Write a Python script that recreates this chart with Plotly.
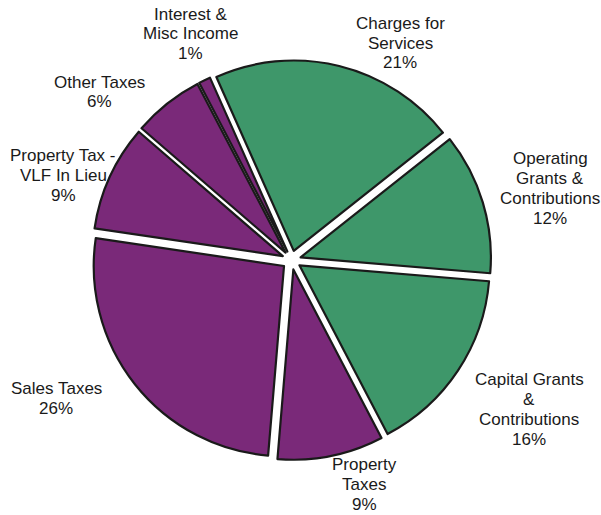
import plotly.graph_objects as go

# Revenue sources, clockwise from "Charges for Services"
labels = [
    "Charges for<br>Services",
    "Operating<br>Grants &<br>Contributions",
    "Capital Grants<br>&<br>Contributions",
    "Property<br>Taxes",
    "Sales Taxes",
    "Property Tax -<br>VLF In Lieu",
    "Other Taxes",
    "Interest &<br>Misc Income",
]
values = [21, 12, 16, 9, 26, 9, 6, 1]
groups = ["program", "program", "program", "tax", "tax", "tax", "tax", "tax"]

# Caption block centres, in pixels from the top-left of the 601x515 figure
label_cx = [400, 550, 529, 364, 56, 63, 99, 190]
label_cy = [43, 188, 409, 484, 398, 175, 92, 34]

W, H = 601, 515
LINE_STEP = 20  # px between caption lines

GREEN = "#3e976a"
PURPLE = "#7a2979"
colors = [GREEN if g == "program" else PURPLE for g in groups]

fig = go.Figure(
    go.Pie(
        labels=labels,
        values=values,
        sort=False,
        direction="clockwise",
        rotation=-24,
        pull=0.05,
        marker=dict(colors=colors, line=dict(color="#1a1a1a", width=2.2)),
        textinfo="none",
        hoverinfo="label+percent",
        showlegend=False,
        domain=dict(x=[0.152, 0.818], y=[0.107, 0.883]),
    )
)

total = sum(values)
for lab, v, cx, cy in zip(labels, values, label_cx, label_cy):
    lines = lab.split("<br>") + [f"{round(100 * v / total)}%"]
    n = len(lines)
    for i, line in enumerate(lines):
        ypx = cy + (i - (n - 1) / 2) * LINE_STEP
        fig.add_annotation(
            x=cx / W, y=1 - ypx / H, xref="paper", yref="paper",
            text=line, showarrow=False,
            xanchor="center", yanchor="middle",
            font=dict(family="Liberation Sans, Arial, sans-serif", size=17, color="#1a1a1a"),
        )

fig.update_layout(
    width=W, height=H,
    margin=dict(l=0, r=0, t=0, b=0),
    paper_bgcolor="white", plot_bgcolor="white",
)

fig.write_html("out.html")
